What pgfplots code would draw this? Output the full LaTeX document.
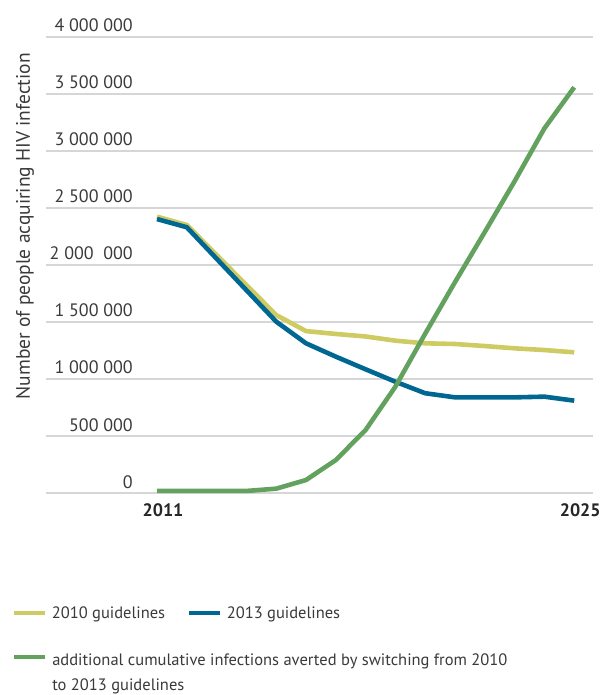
\documentclass[border=0pt]{standalone}
\usepackage{pgfplots}
\pgfplotsset{compat=1.18}
\usepackage{fontspec}
\setmainfont{PT Sans}
\definecolor{c2010}{RGB}{207,203,99}
\definecolor{c2013}{RGB}{0,103,146}
\definecolor{cavert}{RGB}{98,162,94}
\definecolor{gridgrey}{RGB}{214,214,214}
\definecolor{txtgrey}{RGB}{58,58,58}

\begin{document}
\begin{tikzpicture}
  \useasboundingbox (-46pt,-202pt) rectangle (558pt,493pt);
  \begin{axis}[
      at={(0pt,0pt)}, anchor=south west,
      scale only axis,
      width=547pt, height=456pt,
      xmin=2007.275, xmax=2025.63,
      ymin=0, ymax=4000000,
      scaled y ticks=false,
      axis line style={draw=none},
      major tick length=0pt,
      xtick={2011,2025},
      xticklabels={2011,2025},
      xticklabel style={font=\fontsize{18}{20}\selectfont\bfseries, text=black!85,
        anchor=north, yshift=-7pt, xshift=6pt},
      ytick={0,500000,1000000,1500000,2000000,2500000,3000000,3500000,4000000},
      yticklabels={0, 500 000, 1 000 000, 1 500 000, 2 000\ \ 000, 2 500 000, 3 000 000, 3 500 000, 4 000 000},
      yticklabel style={font=\fontsize{18}{20}\selectfont, text=txtgrey,
        anchor=base east, inner sep=0pt, xshift=87pt, yshift=5pt},
      ymajorgrids,
      grid style={gridgrey, line width=1.3pt},
      ylabel={Number of people acquiring HIV infection},
      ylabel style={font=\fontsize{19.5}{22}\selectfont, text=txtgrey,
        at={(axis description cs:-0.0384,0.585)}, anchor=center, rotate=0},
      legend columns=2,
      legend cell align=left,
      legend style={draw=none, fill=none, inner sep=0pt,
        at={(axis description cs:-0.0622,-0.248)}, anchor=north west,
        font=\fontsize{16.5}{25}\selectfont, text=txtgrey,
        row sep=28pt,
        nodes={inner sep=0pt},
        /tikz/every odd column/.append style={column sep=4pt},
        /tikz/every even column/.append style={column sep=22pt}},
      legend image code/.code={\draw[#1] (0pt,0pt) -- (31pt,0pt);},
      every axis plot/.append style={line width=4.6pt, line join=round},
    ]
    \addplot[c2010] coordinates {
      (2011,2424000) (2012,2351000) (2013,2088000) (2014,1824000) (2015,1561000)
      (2016,1420000) (2017,1395000) (2018,1373000) (2019,1336000) (2020,1313000)
      (2021,1307000) (2022,1289000) (2023,1269000) (2024,1254000) (2025,1234000)
    };
    \addlegendentry{2010 guidelines}
    \addplot[c2013] coordinates {
      (2011,2403000) (2012,2331000) (2013,2055000) (2014,1779000) (2015,1503000)
      (2016,1313000) (2017,1196000) (2018,1085000) (2019,976000) (2020,875000)
      (2021,839000) (2022,839000) (2023,839000) (2024,845000) (2025,810000)
    };
    \addlegendentry{2013 guidelines}
    \addplot[cavert] coordinates {
      (2011,18000) (2012,18000) (2013,18000) (2014,18000) (2015,38000)
      (2016,114000) (2017,289000) (2018,553000) (2019,933000) (2020,1398000)
      (2021,1850000) (2022,2290000) (2023,2735000) (2024,3199000) (2025,3559000)
    };
    \addlegendentry{\makebox[0pt][l]{\begin{tabular}[t]{@{}l@{}}additional cumulative infections averted by switching from 2010\\to 2013 guidelines\end{tabular}}}
  \end{axis}
\end{tikzpicture}
\end{document}
